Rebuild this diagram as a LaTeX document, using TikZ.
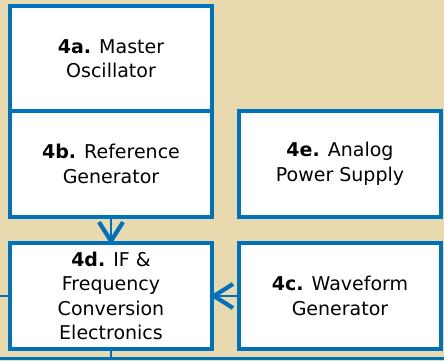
\documentclass[tikz,border=0pt]{standalone}
\usepackage{fontspec}
\setmainfont{DejaVu Sans}
\usepackage{xcolor}
\usetikzlibrary{arrows.meta, positioning}

\definecolor{boxblue}{HTML}{0072BC}
\definecolor{panelbg}{HTML}{E9D9AF}

\begin{document}
\begin{tikzpicture}[
    x=1pt, y=1pt,
    font=\fontsize{19}{24.5}\selectfont,
    node distance=26pt and 27pt,
    block/.style={
        rectangle,
        draw=boxblue,
        fill=white,
        line width=4.8pt,
        align=center,
        minimum width=202pt,
        minimum height=106pt,
        inner sep=2pt,
        outer sep=0pt
    },
    arrow/.style={-{Straight Barb[length=19pt, width=24pt, line width=4.2pt]}, draw=boxblue, line width=1.5pt, shorten >=-2pt},
    wire/.style={draw=boxblue, line width=1.5pt}
]

% Background
\fill[panelbg] (0,0) rectangle (444,361);
\useasboundingbox (0,0) rectangle (444,361);

% Nodes
\node (osc) [block, minimum height=105pt] at (111,302.5) {\textbf{4a.} Master\\Oscillator};

\node (ref) [block, below=0pt of osc] {\textbf{4b.} Reference\\Generator};

\node (pwr) [block, right=of ref] {\textbf{4e.} Analog\\Power Supply};

\node (ifc) [block, below=of ref] {\textbf{4d.} IF \&\\Frequency\\Conversion\\Electronics};

\node (wfg) [block, right=of ifc] {\textbf{4c.} Waveform\\Generator};

% Bus lines
\coordinate (bl) at (0,2);
\coordinate (br) at (444,2);
\draw [wire, line width=3pt] (bl) -- (br);
\draw [wire] (ifc.south) -- (ifc.south |- bl);
\draw [wire] (ifc.west) -- (ifc.west -| bl);

% Arrows
\draw [arrow] (ref) -- (ifc);
\draw [arrow] (wfg) -- (ifc);

\end{tikzpicture}
\end{document}
